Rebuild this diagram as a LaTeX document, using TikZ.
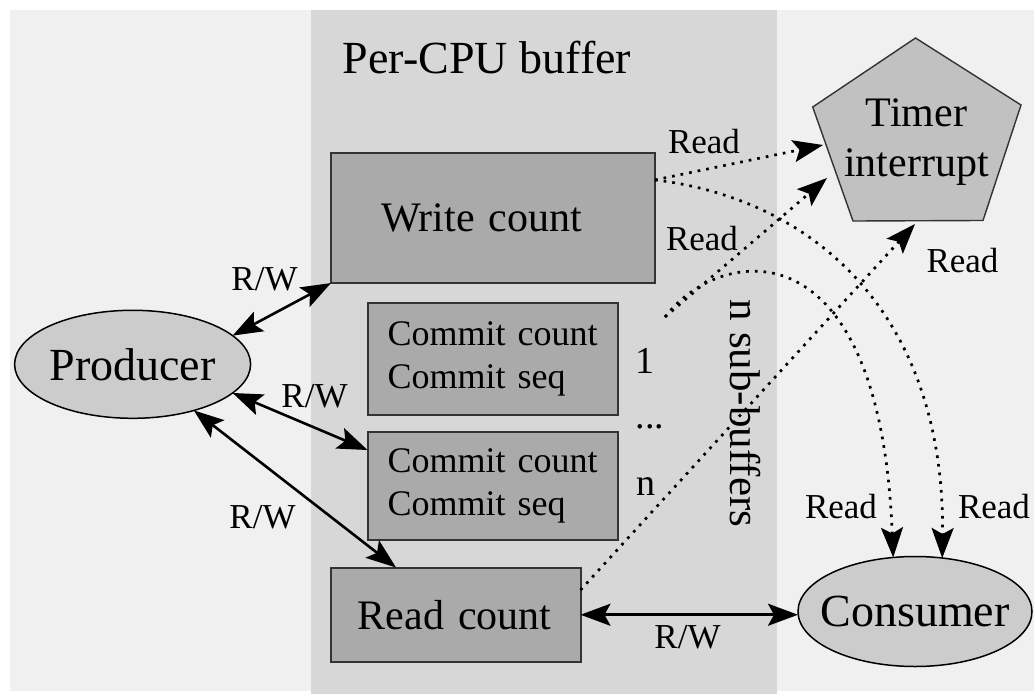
\documentclass[tikz,border=0pt]{standalone}
\usepackage{fontspec}
\setmainfont{Liberation Serif}
\usetikzlibrary{shapes.geometric,arrows.meta,calc}

\definecolor{pagebg}{HTML}{F0F0F0}
\definecolor{bandbg}{HTML}{D7D7D7}
\definecolor{regfill}{HTML}{AAAAAA}
\definecolor{regline}{HTML}{333333}
\definecolor{actorfill}{HTML}{CCCCCC}
\definecolor{timerfill}{HTML}{C1C1C1}

\newcommand\fsz[2]{\fontsize{#1}{#2}\selectfont}

\begin{document}
\begin{tikzpicture}[x=1pt,y=-1pt,
  >={Stealth[length=30pt,width=22pt,inset=6pt]},
  reg/.style={draw=regline, line width=2pt, fill=regfill, inner sep=0pt, outer sep=0pt, align=left},
  actor/.style={ellipse, draw=black, line width=1.5pt, fill=actorfill, inner sep=0pt, outer sep=0pt, font=\fsz{46}{55}},
  lbl/.style={inner sep=0pt, anchor=base, font=\fsz{35}{42}},
  idx/.style={inner sep=0pt, anchor=base, font=\fsz{38}{45}},
  rwlink/.style={<->, line width=2.6pt},
  readlink/.style={->, line width=2.7pt, dash pattern=on 2.7pt off 6pt},
]

\useasboundingbox (0,0) rectangle (1034,698);

% page and per-CPU buffer band
\fill[pagebg] (10,10) rectangle (1034,691);
\fill[bandbg] (311,10) rectangle (777,694);

\node[anchor=base, inner sep=0pt, font=\fsz{46}{55}] (title) at (487,73.3) {Per-CPU buffer};

% counters held in the buffer
\node[reg, minimum width=324pt, minimum height=130.3pt, text width=224pt, font=\fsz{42}{50}] (wc) at (493,217.9) {Write count};
\node[reg, minimum width=250pt, minimum height=112pt, text width=210pt, font=\fsz{36}{43.4}] (c1) at (492.5,358.9) {Commit count\\Commit seq};
\node[reg, minimum width=250pt, minimum height=107.5pt, text width=210pt, font=\fsz{36}{43.4}] (c2) at (492.5,485.75) {Commit count\\Commit seq};
\node[reg, minimum width=249.5pt, minimum height=94.5pt, text width=196pt, font=\fsz{42}{50}] (rc) at (455.75,614.75) {Read count};

% sub-buffer indices
\node[idx] (i1) at (644.5,373) {1};
\node[idx] (idots) at (650,428) {...};
\node[idx] (in) at (645.5,495) {n};
\node[anchor=base, rotate=-90, inner sep=0pt, font=\fsz{43}{50}] (nsub) at (730,413.5) {n sub-buffers};

% timer interrupt pentagon
\coordinate (ptop) at (915.5,38);
\coordinate (pright) at (1021,105);
\coordinate (pbr) at (983,220.5);
\coordinate (pbl) at (853,221);
\coordinate (pleft) at (812.7,107);
\filldraw[fill=timerfill, draw=regline, line width=1.4pt, line join=miter]
  (ptop) -- (pright) -- (pbr) -- (pbl) -- (pleft) -- cycle;
\node[align=center, inner sep=0pt, font=\fsz{42}{50.6}] (timer) at (916.5,142.2) {Timer\\interrupt};

% producer and consumer
\node[actor, minimum width=236pt, minimum height=108pt] (prod) at (132.6,364.3) {\makebox[0pt]{Producer}};
\node[actor, minimum width=234pt, minimum height=110pt] (cons) at (915,611.5) {\makebox[0pt]{Consumer}};

% connector ends
\coordinate (wcout) at ([yshift=38pt]wc.east);
\coordinate (rcout) at ([yshift=24.7pt]rc.east);
\coordinate (commitout) at (665,317);
\coordinate (tin1) at (823,145);
\coordinate (tin2) at (827,178);
\coordinate (tin3) at (915,224);

% read/write accesses
\draw[rwlink] (prod.16) -- (wc.south west);
\draw[rwlink] (prod.-16) -- ([yshift=-18pt]c2.north west);
\draw[rwlink] (prod.-37) -- ([xshift=65pt]rc.north west);
\draw[rwlink] (rc.east) -- (rc.east -| cons.west);

\node[lbl] (rw1) at (264.5,290) {R/W};
\node[lbl] (rw2) at (314.5,407) {R/W};
\node[lbl] (rw3) at (262.5,528) {R/W};
\node[lbl] (rw4) at (687.5,648) {R/W};

% read-only accesses
\draw[readlink] (wcout) -- (tin1);
\draw[readlink] (wcout) .. controls (820,200) and (945,320) .. (cons.63);
\draw[readlink] (commitout) -- (tin2);
\draw[readlink] (commitout) .. controls (720,245) and (880,220) .. (cons.112);
\draw[readlink] (rcout) -- (tin3);

\node[lbl] (rd1) at (704,153.3) {Read};
\node[lbl] (rd2) at (702,250) {Read};
\node[lbl] (rd3) at (962.5,272) {Read};
\node[lbl] (rd4) at (841,518) {Read};
\node[lbl] (rd5) at (994,518) {Read};

\end{tikzpicture}
\end{document}
